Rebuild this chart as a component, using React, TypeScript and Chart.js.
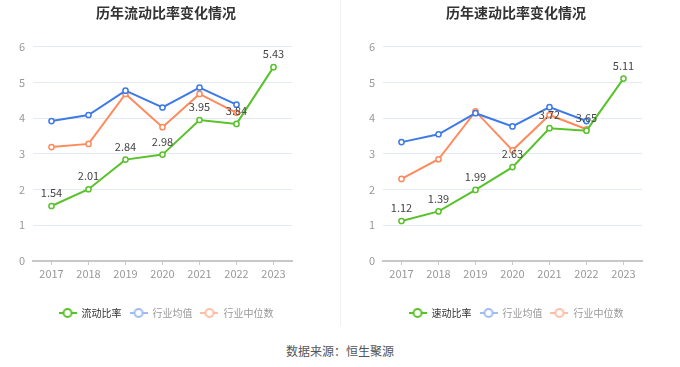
import React, { useEffect, useRef } from 'react';
import { Chart, registerables } from 'chart.js';

Chart.register(...registerables);

const FONT = "'Noto Sans CJK SC', 'Noto Sans', sans-serif";
Chart.defaults.font.family = FONT;

const years = ['2017', '2018', '2019', '2020', '2021', '2022', '2023'];
const yMin = 0;
const yMax = 6;
const yStep = 1;

const currentRatio = [1.54, 2.01, 2.84, 2.98, 3.95, 3.84, 5.43];
const currentIndustryAvg = [3.92, 4.09, 4.77, 4.3, 4.86, 4.38, null];
const currentIndustryMedian = [3.19, 3.28, 4.68, 3.75, 4.68, 4.15, null];

const quickRatio = [1.12, 1.39, 1.99, 2.63, 3.72, 3.65, 5.11];
const quickIndustryAvg = [3.33, 3.55, 4.14, 3.77, 4.31, 3.92, null];
const quickIndustryMedian = [2.3, 2.85, 4.19, 3.1, 4.09, 3.69, null];

const seriesColors = ['#58c22a', '#3d7ae8', '#ff8a5c'];
const legendIconColors = ['#58c22a', '#9ebdf6', '#ffbea5'];
const legendTextColors = ['#333333', '#999999', '#999999'];

function makeLegendIcon(color: string) {
  const c = document.createElement('canvas');
  c.width = 18;
  c.height = 12;
  const ctx = c.getContext('2d')!;
  ctx.strokeStyle = color;
  ctx.lineWidth = 2;
  ctx.beginPath();
  ctx.moveTo(0, 6);
  ctx.lineTo(18, 6);
  ctx.stroke();
  ctx.beginPath();
  ctx.arc(9, 6, 4, 0, Math.PI * 2);
  ctx.fillStyle = '#fff';
  ctx.fill();
  ctx.stroke();
  return c;
}

const valueLabels = {
  id: 'valueLabels',
  afterDatasetsDraw(chart: any) {
    const meta = chart.getDatasetMeta(0);
    const data = chart.data.datasets[0].data as number[];
    const ctx = chart.ctx;
    ctx.save();
    ctx.font = `11px ${FONT}`;
    ctx.fillStyle = '#444';
    ctx.textAlign = 'center';
    ctx.textBaseline = 'middle';
    meta.data.forEach((pt: any, i: number) => {
      if (data[i] == null) return;
      ctx.fillText(data[i].toFixed(2), pt.x, pt.y - 13);
    });
    ctx.restore();
  },
};

function buildConfig(title: string, legendName: string, main: number[], avg: (number | null)[], med: (number | null)[]): any {
  const mk = (label: string, data: any[], i: number) => ({
    label,
    data,
    borderColor: seriesColors[i],
    backgroundColor: '#fff',
    pointBackgroundColor: '#fff',
    pointBorderColor: seriesColors[i],
    pointRadius: 2.6,
    pointBorderWidth: 1.5,
    borderWidth: 2,
    tension: 0,
    spanGaps: false,
    yAxisID: 'y',
  });
  const icons = legendIconColors.map(makeLegendIcon);
  return {
    type: 'line',
    data: {
      labels: years,
      datasets: [mk(legendName, main, 0), mk('行业均值', avg, 1), mk('行业中位数', med, 2)],
    },
    options: {
      responsive: false,
      animation: false,
      layout: { padding: { left: 0, right: 8, top: 0, bottom: 0 } },
      plugins: {
        title: {
          display: true,
          text: title,
          color: '#333',
          font: { size: 14, weight: 'bold', family: FONT },
          padding: { top: 4, bottom: 26 },
        },
        tooltip: { enabled: false },
        legend: {
          position: 'bottom',
          labels: {
            usePointStyle: true,
            pointStyleWidth: 18,
            padding: 8,
            font: { size: 10, family: FONT },
            generateLabels: (chart: any) =>
              chart.data.datasets.map((ds: any, i: number) => ({
                text: ds.label,
                pointStyle: icons[i],
                fontColor: legendTextColors[i],
                fillStyle: 'transparent',
                strokeStyle: 'transparent',
                lineWidth: 0,
                hidden: false,
                datasetIndex: i,
              })),
          },
        },
      },
      scales: {
        x: {
          offset: true,
          grid: { drawOnChartArea: false, drawTicks: true, tickLength: 4, color: '#c8c8c8', offset: false },
          border: { display: true, color: '#c8c8c8', width: 2 },
          ticks: { color: '#999', font: { size: 11 }, padding: 2, maxRotation: 0 },
          afterFit: (s: any) => { s.height = 39; },
        },
        y: {
          min: yMin,
          max: yMax,
          grid: { color: '#e4e9f3', drawTicks: false, lineWidth: 1 },
          border: { display: false },
          ticks: { color: '#999', font: { size: 11 }, padding: 8, stepSize: yStep },
          afterFit: (s: any) => { s.width = 33; },
        },
        spacer: {
          position: 'right',
          display: true,
          min: yMin,
          max: yMax,
          grid: { display: false, drawTicks: false },
          border: { display: false },
          ticks: { display: false },
          afterFit: (s: any) => { s.width = 40; },
        },
      },
    },
    plugins: [valueLabels],
  };
}

function LineChart({ title, legendName, main, avg, med }: any) {
  const ref = useRef<HTMLCanvasElement>(null);
  useEffect(() => {
    const chart = new Chart(ref.current!, buildConfig(title, legendName, main, avg, med));
    return () => chart.destroy();
  }, []);
  return <canvas ref={ref} width={340} height={328} style={{ display: 'block' }} />;
}

export default function App() {
  return (
    <div style={{ position: 'fixed', left: 0, top: 0, width: 680, height: 367, background: '#fff', overflow: 'hidden' }}>
      <div style={{ position: 'absolute', left: 0, top: 0, width: 340, height: 328 }}>
        <LineChart title="历年流动比率变化情况" legendName="流动比率" main={currentRatio} avg={currentIndustryAvg} med={currentIndustryMedian} />
      </div>
      <div style={{ position: 'absolute', left: 350, top: 0, width: 340, height: 328 }}>
        <LineChart title="历年速动比率变化情况" legendName="速动比率" main={quickRatio} avg={quickIndustryAvg} med={quickIndustryMedian} />
      </div>
      <div style={{ position: 'absolute', left: 340, top: 0, width: 1, height: 326, background: '#f0f0f0' }} />
      <div style={{ position: 'absolute', left: 0, top: 343, width: 680, textAlign: 'center', fontSize: 12, lineHeight: '16px', color: '#555', fontFamily: FONT }}>
        数据来源：恒生聚源
      </div>
    </div>
  );
}
